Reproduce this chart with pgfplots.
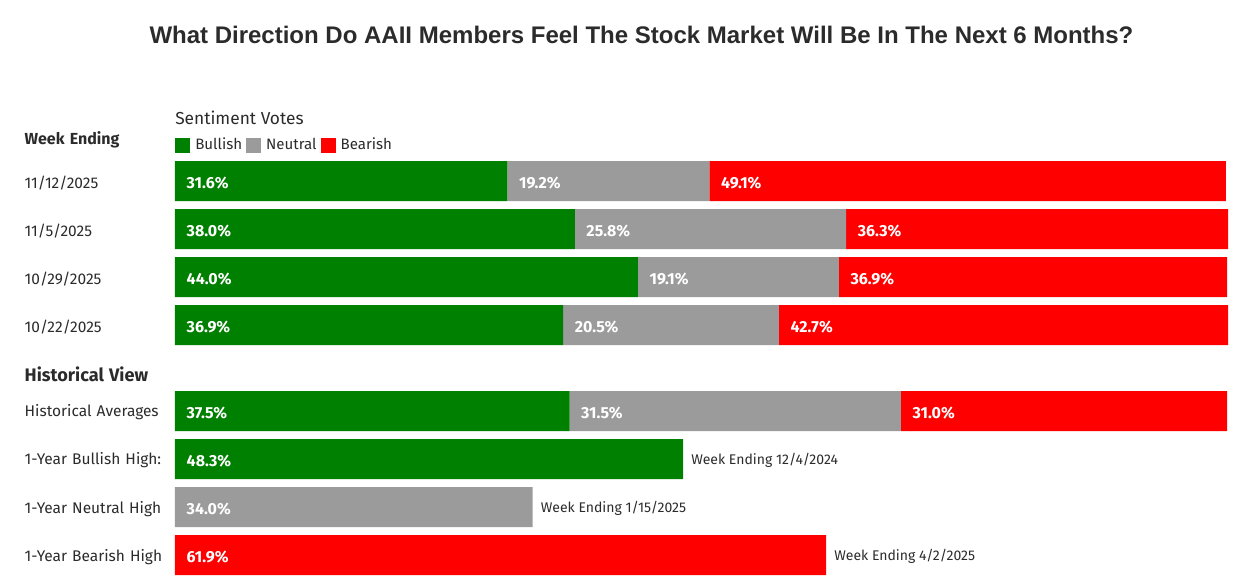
\documentclass[border=0pt]{standalone}
\usepackage{pgfplots}
\pgfplotsset{compat=1.18}
\usepackage{fontspec}
\setmainfont{Fira Sans}
\newfontfamily\titlefont{Liberation Sans}

\definecolor{bull}{HTML}{008000}
\definecolor{neut}{HTML}{9B9B9B}
\definecolor{bear}{HTML}{FF0000}
\definecolor{ink}{HTML}{2B2B2B}

% 1px of the reference = 0.75pt
\pgfplotsset{
  sentax/.style={
    at={(131.25pt,-135.75pt)}, anchor=origin,
    x=7.89pt, y=36pt, y dir=reverse,
    xmin=0, xmax=100, ymin=-1.5, ymax=8.4,
    axis line style={draw=none},
    major tick length=0pt,
    xtick=\empty,
    clip=false,
  },
}

\begin{document}
\begin{tikzpicture}
\useasboundingbox (0,0) rectangle (932.25pt,-439.5pt);

\node[font=\titlefont\bfseries\fontsize{18}{22}\selectfont, text=ink] at (481.1pt,-26.25pt)
  {What Direction Do AAII Members Feel The Stock Market Will Be In The Next 6 Months?};
\node[anchor=west, inner sep=0pt, font=\fontsize{13}{15}\selectfont, text=ink] at (131.25pt,-88.5pt) {Sentiment Votes};

\begin{axis}[sentax,
    xbar stacked, bar width=30pt,
    ytick={-0.8958,0,1,2,3,4,4.7917,5.7917,6.7917,7.7917},
    yticklabels={{\bfseries\fontsize{12}{14}\selectfont Week Ending},11/12/2025,11/5/2025,10/29/2025,10/22/2025,
      {\bfseries\fontsize{13.6}{15}\selectfont Historical View},Historical Averages,1-Year Bullish High:,1-Year Neutral High,1-Year Bearish High},
    yticklabel style={anchor=east, inner sep=0pt, text width=112.5pt, align=left,
      yshift=-1.2pt, font=\fontsize{11.6}{14}\selectfont, text=ink},
    legend columns=-1,
    legend style={at={(axis cs:0,-0.75)}, anchor=west, draw=none, fill=none,
      inner sep=0pt, font=\fontsize{11.3}{13}\selectfont, text=ink,
      nodes={inner sep=0pt},
      /tikz/every odd column/.append style={column sep=3.75pt},
      /tikz/every even column/.append style={column sep=3pt}},
    legend image code/.code={\fill[#1,draw=none] (0pt,-5.625pt) rectangle (11.25pt,5.625pt);},
  ]
\addplot[fill=bull, draw=none] coordinates {
  (31.6,0) (38.0,1) (44.0,2) (36.9,3)
  (37.5,4.7917) (48.3,5.7917) (0,6.7917) (0,7.7917)};
\addlegendentry{Bullish}
\addplot[fill=neut, draw=none] coordinates {
  (19.2,0) (25.8,1) (19.1,2) (20.5,3)
  (31.5,4.7917) (0,5.7917) (34.0,6.7917) (0,7.7917)};
\addlegendentry{Neutral}
\addplot[fill=bear, draw=none] coordinates {
  (49.1,0) (36.3,1) (36.9,2) (42.7,3)
  (31.0,4.7917) (0,5.7917) (0,6.7917) (61.9,7.7917)};
\addlegendentry{Bearish}
\end{axis}

\begin{axis}[sentax, hide axis]
% value labels, placed at the start of each segment
\addplot[draw=none, mark=none, nodes near coords={\pgfplotspointmeta\%},
  point meta=explicit symbolic,
  every node near coord/.style={anchor=west, xshift=8.6pt, yshift=-1.2pt, inner sep=0pt,
    font=\bfseries\fontsize{12}{14}\selectfont, text=white}]
  table[col sep=comma, meta=lab] {
x,y,lab
0,0,31.6
31.6,0,19.2
50.8,0,49.1
0,1,38.0
38.0,1,25.8
63.8,1,36.3
0,2,44.0
44.0,2,19.1
63.1,2,36.9
0,3,36.9
36.9,3,20.5
57.4,3,42.7
0,4.7917,37.5
37.5,4.7917,31.5
69.0,4.7917,31.0
0,5.7917,48.3
0,6.7917,34.0
0,7.7917,61.9
};
% dates of the one-year highs, at the bar ends
\addplot[draw=none, mark=none, nodes near coords={Week Ending \pgfplotspointmeta},
  point meta=explicit symbolic,
  every node near coord/.style={anchor=west, xshift=6pt, yshift=-1.2pt, inner sep=0pt,
    font=\fontsize{10.5}{13}\selectfont, text=ink}]
  table[col sep=comma, meta=lab] {
x,y,lab
48.3,5.7917,12/4/2024
34.0,6.7917,1/15/2025
61.9,7.7917,4/2/2025
};
\end{axis}
\end{tikzpicture}
\end{document}
